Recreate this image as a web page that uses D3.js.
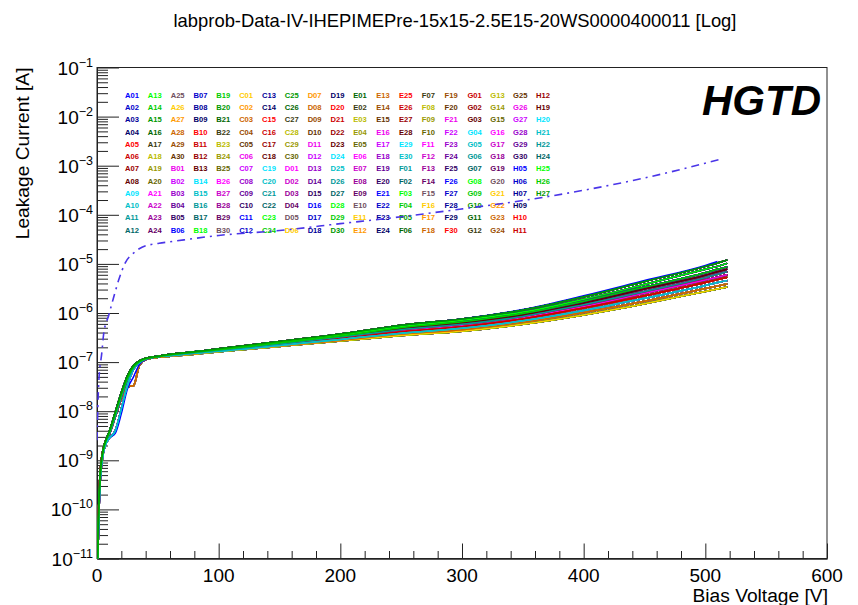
<!DOCTYPE html>
<html><head><meta charset="utf-8">
<script src="https://cdn.jsdelivr.net/npm/d3@7"></script>
<style>
body{margin:0;background:#fff;}
svg{display:block;font-family:"Liberation Sans",Arial,Helvetica,sans-serif;}
</style>
</head><body>
<svg id="chart" width="858" height="605"></svg>
<script>
// ---------------- DATA ----------------
const titleText = "labprob-Data-IV-IHEPIMEPre-15x15-2.5E15-20WS0000400011 [Log]";
const xTicks = [0, 100, 200, 300, 400, 500, 600];
const yExponents = [-1, -2, -3, -4, -5, -6, -7, -8, -9, -10, -11];

// shared bias-voltage grid [V]
const voltages = [0,1,2.5,5,7.5,10,15,20,25,30,35,40,50,60,80,100,150,200,250,300,350,400,450,500,510,518];
// log10(leakage current [A]) of the distinct curve shapes in the bundle
const p0  = [-11.6,-10.4,-9.35,-8.80,-8.58,-8.42,-8.02,-7.62,-7.28,-7.07,-6.97,-6.92,-6.88,-6.84,-6.79,-6.73,-6.58,-6.43,-6.25,-6.12,-5.94,-5.67,-5.36,-5.05,-4.98,-4.92];
const p1  = [-11.8,-10.5,-9.40,-8.83,-8.60,-8.44,-8.05,-7.65,-7.31,-7.09,-6.98,-6.93,-6.88,-6.85,-6.79,-6.74,-6.59,-6.45,-6.28,-6.15,-5.98,-5.72,-5.42,-5.11,-5.05,-4.99];
const p2  = [-11.5,-10.3,-9.30,-8.78,-8.57,-8.43,-8.04,-7.66,-7.33,-7.10,-6.99,-6.93,-6.89,-6.85,-6.80,-6.75,-6.61,-6.47,-6.30,-6.18,-6.01,-5.76,-5.47,-5.18,-5.11,-5.06];
const p3  = [-12.0,-10.6,-9.45,-8.85,-8.62,-8.46,-8.08,-7.69,-7.35,-7.11,-6.99,-6.93,-6.89,-6.85,-6.80,-6.75,-6.62,-6.48,-6.32,-6.20,-6.04,-5.80,-5.51,-5.23,-5.16,-5.11];
const p4  = [-11.7,-10.45,-9.38,-8.82,-8.60,-8.48,-8.12,-7.72,-7.37,-7.12,-7.00,-6.94,-6.89,-6.86,-6.81,-6.76,-6.63,-6.49,-6.34,-6.23,-6.07,-5.83,-5.56,-5.28,-5.21,-5.16];
const p5  = [-11.9,-10.55,-9.42,-8.84,-8.62,-8.47,-8.10,-7.70,-7.36,-7.11,-7.00,-6.94,-6.89,-6.86,-6.81,-6.76,-6.64,-6.51,-6.36,-6.25,-6.09,-5.87,-5.60,-5.33,-5.27,-5.22];
const p6  = [-11.4,-10.25,-9.28,-8.78,-8.58,-8.45,-8.07,-7.68,-7.34,-7.10,-6.99,-6.93,-6.89,-6.87,-6.82,-6.77,-6.65,-6.52,-6.38,-6.28,-6.12,-5.90,-5.65,-5.38,-5.32,-5.27];
const p7  = [-12.1,-10.7,-9.50,-8.88,-8.66,-8.55,-8.40,-7.95,-7.48,-7.15,-7.01,-6.94,-6.89,-6.87,-6.82,-6.78,-6.66,-6.54,-6.41,-6.31,-6.16,-5.95,-5.70,-5.44,-5.38,-5.34];
const p8  = [-11.8,-10.5,-9.40,-8.84,-8.62,-8.48,-8.12,-7.75,-7.50,-7.48,-7.06,-6.95,-6.90,-6.88,-6.83,-6.78,-6.67,-6.56,-6.43,-6.34,-6.19,-5.99,-5.76,-5.50,-5.45,-5.41];
const p9  = [-11.6,-10.4,-9.36,-8.82,-8.60,-8.46,-8.09,-7.70,-7.37,-7.12,-7.00,-6.94,-6.90,-6.88,-6.84,-6.79,-6.68,-6.57,-6.46,-6.37,-6.23,-6.04,-5.81,-5.56,-5.51,-5.47];
const p10 = [-12.0,-10.6,-9.45,-8.86,-8.65,-8.55,-8.45,-8.05,-7.55,-7.30,-7.04,-6.95,-6.89,-6.85,-6.79,-6.74,-6.59,-6.44,-6.26,-6.12,-5.93,-5.65,-5.34,-5.03,-4.95,null];
const profiles = [p0,p1,p2,p3,p4,p5,p6,p7,p8,p9,p10];

// channel names (legend order)
const fullLetters = ["A","B","C","D","E","F","G"];
const hChannels = ["H05","H06","H07","H09","H10","H11","H12","H19","H20","H21","H22","H24","H25","H26","H27"];
// which curve shape each channel follows
const channelProfile = [
 5,3,7,1,6,8,2,4,9,0, 4,6,2,8,5,1,7,3,9,5, 3,6,0,8,2,7,4,1,6,9,
 2,5,8,0,4,7,3,6,1,9, 5,2,7,4,0,8,3,6,1,5, 7,2,9,4,6,0,3,8,5,1,
 6,4,8,2,0,7,5,3,9,1, 4,7,2,6,8,0,5,3,1,9, 6,2,4,8,0,7,3,5,1,6,
 3,7,0,5,9,2,6,4,8,1, 7,3,5,0,9,4,2,6,8,1, 5,3,7,0,4,9,2,6,8,3,
 4,8,1,6,3,9,0,5,7,2, 6,4,8,1,5,9,3,7,0,2, 4,6,9,1,8,3,5,0,7,2,
 8,1,5,3,7,0,6,2,9,4, 1,5,8,3,6,0,7,2,4,9, 3,8,5,1,6,0,4,7,2,5,
 7,0,4,8,2,6,3,9,1,5, 0,8,3,6,2,7,4,1,5,8, 9,8,8,6,5,5,4,3,2,1,
 10,2,1,3,6,6,4,3,7,7,4,0,1,2,0
];
// colour cycle used by the channels
const palette = [
 "#0000ff","#0000cc","#000099","#000066",
 "#ff0000","#cc0000","#990000","#660000",
 "#00e5ff","#00c0c8","#009999","#006666",
 "#00ff00","#00cc00","#009900","#006600",
 "#3a3a10","#bbbb00","#999900","#666600",
 "#ff00ff","#cc00cc","#990099","#660066",
 "#705060","#ffcc00","#ff9900","#cc6600","#994c00","#663300",
 "#ee00ee","#cc00ff","#9900cc","#660099","#330066"
];

// compliance / dash-dot curve
const dashV   = [0,1.4,4,5.5,9.6,13.7,17.8,23.2,30,37,51,60,100,150,200,250,300,350,400,450,514];
const dashLog = [-8.59,-7.43,-6.80,-6.42,-6.05,-5.68,-5.33,-4.98,-4.78,-4.66,-4.58,-4.55,-4.42,-4.32,-4.18,-4.04,-3.88,-3.71,-3.50,-3.25,-2.86];

// ---------------- BUILD ----------------
const channels = [];
fullLetters.forEach(L => { for (let n = 1; n <= 30; n++) channels.push(L + String(n).padStart(2,"0")); });
hChannels.forEach(h => channels.push(h));

const L = 97, R = 827, T = 67.5, B = 558.5;
const svg = d3.select("#chart");
const x = d3.scaleLinear().domain([0,600]).range([L,R]);
const y = d3.scaleLog().domain([1e-11,1e-1]).range([B,T]);

svg.append("defs").append("clipPath").attr("id","clip")
  .append("rect").attr("x",L).attr("y",T).attr("width",R-L).attr("height",B-T);

// title
svg.append("text").attr("x",455).attr("y",27).attr("text-anchor","middle")
  .attr("font-size",18.4).attr("fill","#000").text(titleText);

// frame
svg.append("rect").attr("x",L).attr("y",T).attr("width",R-L).attr("height",B-T)
  .attr("fill","none").attr("stroke","#222").attr("stroke-width",1);

// y axis ticks
const yMajor = yExponents.map(e => Math.pow(10,e));
const yMinor = [];
for (let e = -11; e < -1; e++) for (let k = 2; k <= 9; k++) yMinor.push(k*Math.pow(10,e));
const yAxMaj = d3.axisRight(y).tickValues(yMajor).tickSize(22).tickSizeOuter(0).tickFormat("");
const yAxMin = d3.axisRight(y).tickValues(yMinor).tickSize(11).tickSizeOuter(0).tickFormat("");
[yAxMaj,yAxMin].forEach(ax => {
  const g = svg.append("g").attr("transform",`translate(${L},0)`).call(ax);
  g.select(".domain").attr("stroke","#222");
  g.selectAll("line").attr("stroke","#222");
});
// x axis ticks
const xMinor = d3.range(0,601,20).filter(v => v % 100 !== 0);
const xAxMaj = d3.axisTop(x).tickValues(xTicks).tickSize(15).tickSizeOuter(0).tickFormat("");
const xAxMin = d3.axisTop(x).tickValues(xMinor).tickSize(7.5).tickSizeOuter(0).tickFormat("");
[xAxMaj,xAxMin].forEach(ax => {
  const g = svg.append("g").attr("transform",`translate(0,${B})`).call(ax);
  g.select(".domain").attr("stroke","#222");
  g.selectAll("line").attr("stroke","#222");
});

// y labels
yExponents.forEach(e => {
  const t = svg.append("text").attr("x",93).attr("y",y(Math.pow(10,e))+7)
    .attr("text-anchor","end").attr("font-size",19).attr("fill","#000");
  t.append("tspan").text("10");
  t.append("tspan").attr("dy",-8).attr("font-size",12.5).text("\u2212" + Math.abs(e));
});
// x labels
xTicks.forEach(v => {
  svg.append("text").attr("x",x(v)).attr("y",582).attr("text-anchor","middle")
    .attr("font-size",19).attr("fill","#000").text(v);
});
// axis titles
svg.append("text").attr("x",R+1).attr("y",602).attr("text-anchor","end")
  .attr("font-size",19.2).attr("fill","#000").text("Bias Voltage [V]");
svg.append("text").attr("transform",`translate(29,${T}) rotate(-90)`).attr("text-anchor","end")
  .attr("font-size",19.2).attr("fill","#000").text("Leakage Current [A]");

// HGTD
svg.append("text").attr("x",821).attr("y",115).attr("text-anchor","end")
  .attr("font-size",42).attr("font-weight","bold").attr("font-style","italic")
  .attr("fill","#000").text("HGTD");

// legend
const legG = svg.append("g");
channels.forEach((name,i) => {
  const c = Math.floor(i/12), r = i % 12;
  legG.append("text").attr("x",125 + c*22.83).attr("y",95 + r*12.27 + 2.7)
    .attr("font-size",7.6).attr("font-weight","bold")
    .attr("fill",palette[i % palette.length]).text(name);
});

const plot = svg.append("g").attr("clip-path","url(#clip)");

// dash-dot curve
const dashLine = d3.line().x(d => x(d[0])).y(d => y(Math.pow(10,d[1]))).curve(d3.curveMonotoneX);
plot.append("path").datum(dashV.map((v,i) => [v,dashLog[i]]))
  .attr("d",dashLine).attr("fill","none").attr("stroke","#4a35e8")
  .attr("stroke-width",1.6).attr("stroke-dasharray","8,5,2,5");

// IV curves
const ivLine = d3.line().defined(d => d[1] !== null)
  .x(d => x(d[0])).y(d => y(Math.pow(10,d[1]))).curve(d3.curveMonotoneX);
channels.forEach((name,i) => {
  const prof = profiles[channelProfile[i]];
  plot.append("path").datum(voltages.map((v,j) => [v,prof[j]]))
    .attr("d",ivLine).attr("fill","none")
    .attr("stroke",palette[i % palette.length]).attr("stroke-width",1.5);
});
</script>
</body></html>
